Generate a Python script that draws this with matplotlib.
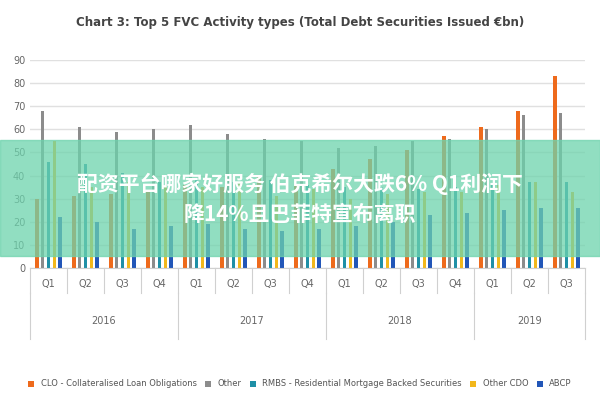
import matplotlib.pyplot as plt
import numpy as np

quarters = ["Q1", "Q2", "Q3", "Q4"] * 3 + ["Q1", "Q2", "Q3"]
years = ["2016", "2017", "2018", "2019"]
series_names = ["CLO - Collateralised Loan Obligations", "Other",
                "RMBS - Residential Mortgage Backed Securities", "Other CDO", "ABCP"]
colors = ["#ee6a1c", "#8c8c8c", "#1f8fa6", "#f2b71b", "#2256b8"]
clo = [30, 31, 32, 33, 36, 35, 40, 36, 43, 47, 51, 57, 61, 68, 83]
other = [68, 61, 59, 60, 62, 58, 56, 55, 52, 53, 55, 56, 60, 66, 67]
rmbs = [46, 45, 41, 37, 38, 37, 38, 36, 35, 35, 34, 35, 36, 37, 37]
other_cdo = [55, 35, 37, 36, 35, 37, 31, 34, 30, 32, 33, 33, 36, 37, 33]
abcp = [22, 20, 17, 18, 19, 17, 16, 17, 18, 20, 23, 24, 25, 26, 26]
values = [clo, other, rmbs, other_cdo, abcp]

fig = plt.figure(figsize=(6, 4), dpi=100)
ax = fig.add_axes([0.05, 0.33, 0.925, 0.52])
x = np.arange(len(quarters))
w = 0.1
for i, (vals, c, n) in enumerate(zip(values, colors, series_names)):
    ax.bar(x + (i - 2) * 1.6 * w, vals, w, color=c, label=n)
ax.set_ylim(0, 90)
ax.set_xlim(-0.5, len(quarters) - 0.5)
ax.set_yticks(range(0, 91, 10))
ax.yaxis.grid(True, color="#e0e0e0", lw=1)
ax.set_axisbelow(True)
for s in ["top", "right", "left"]:
    ax.spines[s].set_visible(False)
ax.spines["bottom"].set_color("#d0d0d0")
ax.tick_params(axis="y", length=0, labelsize=7, colors="#666666")
ax.set_xticks(x)
ax.set_xticklabels(quarters, fontsize=7, color="#666666")
ax.tick_params(axis="x", length=0, pad=8)
for b in np.arange(-0.5, len(quarters), 1):
    ax.plot([b, b], [0, -0.12], transform=ax.get_xaxis_transform(), clip_on=False,
            color="#d0d0d0", lw=0.8)
for k, yr in enumerate(years):
    start = k * 4
    end = min(start + 4, len(quarters))
    ax.text((start + end - 1) / 2, -0.27, yr, transform=ax.get_xaxis_transform(),
            ha="center", fontsize=7, color="#666666")
    ax.plot([start - 0.5, start - 0.5], [-0.12, -0.34], transform=ax.get_xaxis_transform(),
            clip_on=False, color="#d0d0d0", lw=0.8)
ax.plot([len(quarters) - 0.5] * 2, [-0.12, -0.34], transform=ax.get_xaxis_transform(),
        clip_on=False, color="#d0d0d0", lw=0.8)

fig.text(0.5, 0.935, "Chart 3: Top 5 FVC Activity types (Total Debt Securities Issued €bn)",
         ha="center", fontsize=8.5, fontweight="bold", color="#444444")
fig.legend(loc="lower center", bbox_to_anchor=(0.5, 0.01), ncol=5, frameon=False,
           fontsize=6, handlelength=0.7, handleheight=0.7, columnspacing=1.0,
           labelcolor="#555555")

# banner overlay
fig.patches.append(plt.Rectangle((0, 0.36), 1, 0.29, transform=fig.transFigure,
                                 color="#6dd3ad", alpha=0.75, zorder=5))
fig.text(0.5, 0.54, "配资平台哪家好服务 伯克希尔大跌6% Q1利润下", ha="center", va="center",
         fontsize=15, fontweight="bold", color="white", family="Noto Sans CJK SC", zorder=6)
fig.text(0.5, 0.465, "降14%且巴菲特宣布离职", ha="center", va="center",
         fontsize=15, fontweight="bold", color="white", family="Noto Sans CJK SC", zorder=6)

fig.savefig("out.png")
